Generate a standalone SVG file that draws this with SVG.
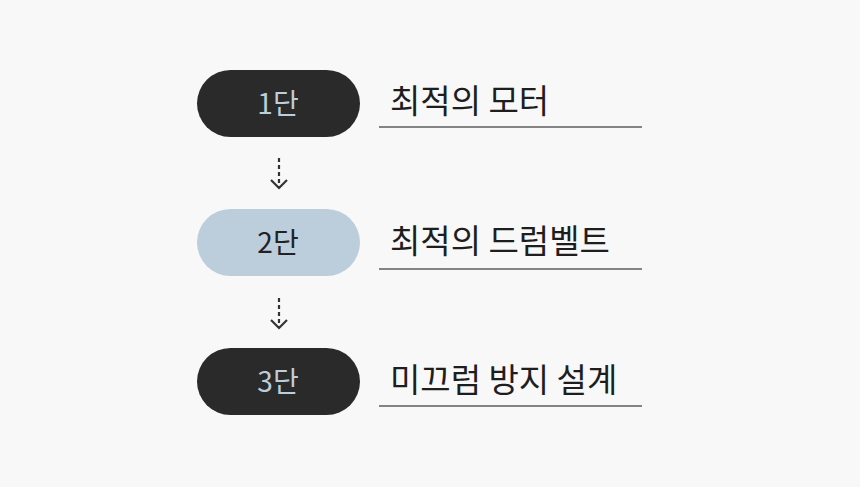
<svg xmlns="http://www.w3.org/2000/svg" width="860" height="487" viewBox="0 0 860 487">
<style>
.pd{fill:#2a2a2a}.pl{fill:#bccddc}
.nt{font-family:"Noto Sans CJK KR","Noto Sans",sans-serif;font-size:28px;text-anchor:middle}
.lt{font-family:"Noto Sans CJK KR","Noto Sans",sans-serif;font-size:33px;fill:#1e1e1e}
.ul{stroke:#111;stroke-width:1}
.c{stroke:#333;stroke-width:2.2;fill:none}
</style>
<rect width="860" height="487" fill="#f8f8f8"/>
<g id="n1"><rect class="pd" x="197" y="70" width="163" height="67" rx="33.5"/><text class="nt" x="278" y="114" fill="#bccddc">1단</text>
<text class="lt" x="390" y="113">최적의 모터</text><line class="ul" x1="379" y1="127" x2="642" y2="127"/></g>
<g id="n2"><rect class="pl" x="197" y="209" width="163" height="67" rx="33.5"/><text class="nt" x="278" y="253" fill="#222">2단</text>
<text class="lt" x="390" y="253">최적의 드럼벨트</text><line class="ul" x1="379" y1="269" x2="642" y2="269"/></g>
<g id="n3"><rect class="pd" x="197" y="348" width="163" height="67" rx="33.5"/><text class="nt" x="278" y="392" fill="#bccddc">3단</text>
<text class="lt" x="390" y="392">미끄럼 방지 설계</text><line class="ul" x1="379" y1="406" x2="642" y2="406"/></g>
<g id="connectors">
<path class="c" d="M279 158V188" stroke-dasharray="4 3"/><path class="c" d="M271 180L279 188L287 180"/>
<path class="c" d="M279 298V328" stroke-dasharray="4 3"/><path class="c" d="M271 320L279 328L287 320"/>
</g>
</svg>
